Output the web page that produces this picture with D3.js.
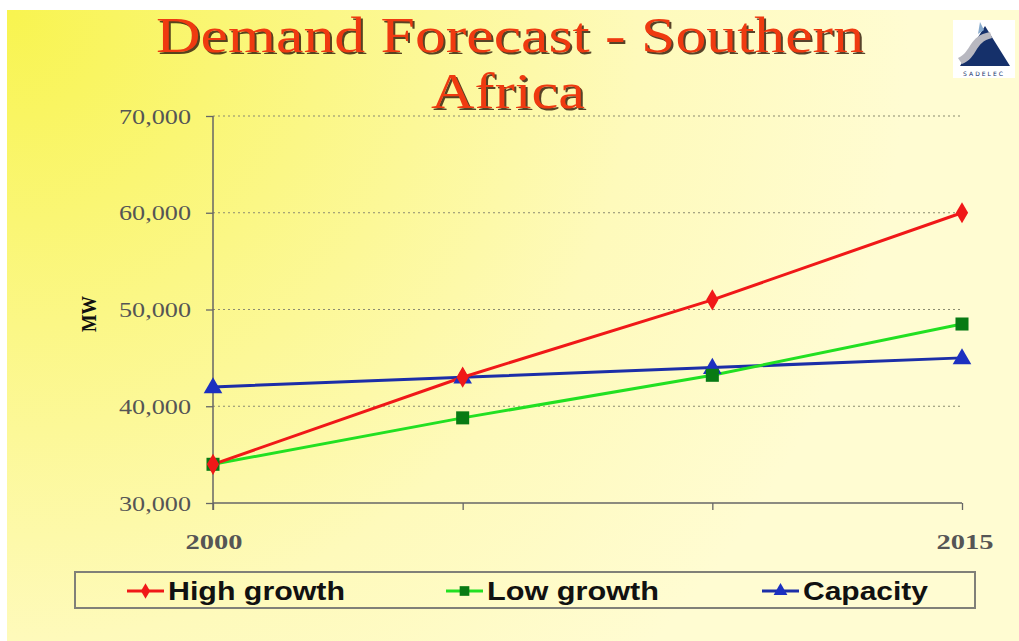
<!DOCTYPE html>
<html><head><meta charset="utf-8">
<script src="https://cdn.jsdelivr.net/npm/d3@7"></script>
<style>html,body{margin:0;padding:0;background:#fff;}svg{display:block;}</style>
</head><body>
<script>
const years = [2000, 2005, 2010, 2015];
const highGrowth = [34000, 43000, 51000, 60000];
const lowGrowth = [34000, 38800, 43200, 48500];
const capacity = [42000, 43000, 44000, 45000];
const yTicks = [30000, 40000, 50000, 60000, 70000];
const xLabels = [2000, 2015];
const seriesNames = ["High growth", "Low growth", "Capacity"];

const W = 1019, H = 641;
const svg = d3.select("body").append("svg").attr("width", W).attr("height", H);
const defs = svg.append("defs");
const grad = defs.append("radialGradient").attr("id", "bg")
  .attr("gradientUnits", "userSpaceOnUse").attr("cx", 10).attr("cy", 12).attr("r", 900);
grad.append("stop").attr("offset", 0).attr("stop-color", "#f8f450");
grad.append("stop").attr("offset", 0.35).attr("stop-color", "#fbf786");
grad.append("stop").attr("offset", 0.7).attr("stop-color", "#fefabb");
grad.append("stop").attr("offset", 1).attr("stop-color", "#fffcd2");
svg.append("rect").attr("x", 7).attr("y", 10).attr("width", W - 7).attr("height", H - 10).attr("fill", "url(#bg)");

// Title
const title = svg.append("g").attr("font-family", "'Liberation Serif', 'Times New Roman', serif").attr("font-size", 51).attr("text-anchor", "middle");
[["Demand Forecast - Southern", 510, 52, 708], ["Africa", 508, 108, 154]].forEach(([t, x, y, len]) => {
  title.append("text").attr("x", x + 2).attr("y", y + 2).attr("fill", "#3a2410").attr("opacity", 0.85)
    .attr("textLength", len).attr("lengthAdjust", "spacingAndGlyphs").text(t);
  title.append("text").attr("x", x).attr("y", y).attr("fill", "#ef3a10")
    .attr("textLength", len).attr("lengthAdjust", "spacingAndGlyphs").text(t);
});

// Logo
const logo = svg.append("g");
logo.append("rect").attr("x", 953).attr("y", 20).attr("width", 62).attr("height", 58).attr("fill", "#ffffff");
logo.append("path").attr("d", "M960,66 L985,26 L1010,66 Z").attr("fill", "#15306a");
logo.append("path").attr("d", "M958,58 C972,52 968,36 990,32 L992,38 C974,42 978,58 962,64 Z").attr("fill", "#b8b8c0");
logo.append("path").attr("d", "M980,22 L984,30 L978,34 Z").attr("fill", "#88aacc");
logo.append("text").attr("x", 984).attr("y", 76).attr("text-anchor", "middle").attr("font-family", "DejaVu Sans").attr("font-size", 6).attr("letter-spacing", 2).attr("fill", "#15306a").text("SADELEC");

// Scales
const x = d3.scaleLinear().domain([2000, 2015]).range([213, 962]);
const y = d3.scaleLinear().domain([30000, 70000]).range([503, 116]);

// gridlines
svg.append("g").selectAll("line").data(yTicks.filter(d => d > 30000)).join("line")
  .attr("x1", x(2000)).attr("x2", x(2015)).attr("y1", d => y(d)).attr("y2", d => y(d))
  .attr("stroke", "#8a8a70").attr("stroke-width", 1.2).attr("stroke-dasharray", "2,3");

// y axis
const yAxis = svg.append("g").attr("transform", `translate(${x(2000)},0)`)
  .call(d3.axisLeft(y).tickValues(yTicks).tickSize(7).tickFormat(d3.format(",")));
yAxis.select(".domain").remove();
yAxis.append("line").attr("x1", 0).attr("x2", 0).attr("y1", y(70000)).attr("y2", y(30000) + 7).attr("stroke", "#666").attr("stroke-width", 1.5);
yAxis.selectAll(".tick line").attr("stroke", "#666").attr("stroke-width", 1.3);
yAxis.selectAll(".tick text").attr("x", -22).attr("font-family", "'Liberation Serif', serif").attr("font-size", 22)
  .attr("fill", "#555").attr("textLength", 72).attr("lengthAdjust", "spacingAndGlyphs");

// x axis
const xAxis = svg.append("g").attr("transform", `translate(0,${y(30000)})`)
  .call(d3.axisBottom(x).tickValues(years).tickSize(7).tickFormat(""));
xAxis.select(".domain").attr("stroke", "#666").attr("stroke-width", 1.5).attr("d", `M${x(2000)},0H${x(2015)}`);
xAxis.selectAll(".tick line").attr("stroke", "#666").attr("stroke-width", 1.3);
svg.append("g").selectAll("text").data(xLabels).join("text")
  .attr("x", d => x(d) + (d === 2015 ? 3 : 1)).attr("y", 549).attr("text-anchor", "middle")
  .attr("font-family", "'Liberation Serif', serif").attr("font-size", 22).attr("font-weight", "bold").attr("fill", "#555")
  .attr("textLength", 57).attr("lengthAdjust", "spacingAndGlyphs")
  .text(d => d);

// y title
svg.append("text").attr("transform", "translate(96,314) rotate(-90)").attr("text-anchor", "middle")
  .attr("font-family", "'Liberation Serif', serif").attr("font-weight", "bold").attr("font-size", 22).attr("fill", "#111")
  .attr("textLength", 36).attr("lengthAdjust", "spacingAndGlyphs").text("MW");

// series
const series = [
  {name: seriesNames[0], values: highGrowth, line: "#f01818", fill: "#f01818", sym: d3.symbolDiamond, size: 130},
  {name: seriesNames[1], values: lowGrowth, line: "#22e022", fill: "#087a14", sym: d3.symbolSquare, size: 170},
  {name: seriesNames[2], values: capacity, line: "#1c2ea8", fill: "#1c30c0", sym: d3.symbolTriangle, size: 150}
];
const line = d3.line().x((d, i) => x(years[i])).y(d => y(d));
const drawOrder = [2, 1, 0];
drawOrder.forEach(k => {
  const s = series[k];
  svg.append("path").attr("d", line(s.values)).attr("fill", "none").attr("stroke", s.line).attr("stroke-width", 3);
});
drawOrder.forEach(k => {
  const s = series[k];
  svg.append("g").selectAll("path").data(s.values).join("path")
    .attr("transform", (d, i) => `translate(${x(years[i])},${y(d) + (s.sym === d3.symbolTriangle ? 1 : 0)})`)
    .attr("d", d3.symbol().type(s.sym).size(s.size)).attr("fill", s.fill);
});

// legend
svg.append("rect").attr("x", 75).attr("y", 572).attr("width", 900).attr("height", 36)
  .attr("fill", "none").attr("stroke", "#808078").attr("stroke-width", 2);
const legX = [127, 446, 762];
const legLen = [177, 172, 125];
series.forEach((s, i) => {
  const g = svg.append("g").attr("transform", `translate(${legX[i]},591)`);
  g.append("line").attr("x1", 0).attr("x2", 37).attr("stroke", s.line).attr("stroke-width", 3);
  g.append("path").attr("transform", "translate(18.5,0)").attr("d", d3.symbol().type(s.sym).size(s.size * 0.55)).attr("fill", s.fill);
  g.append("text").attr("x", 41).attr("y", 9).attr("font-family", "'Liberation Sans', Arial, sans-serif").attr("font-weight", "bold")
    .attr("font-size", 25).attr("fill", "#111").attr("textLength", legLen[i]).attr("lengthAdjust", "spacingAndGlyphs").text(s.name);
});
</script>
</body></html>
